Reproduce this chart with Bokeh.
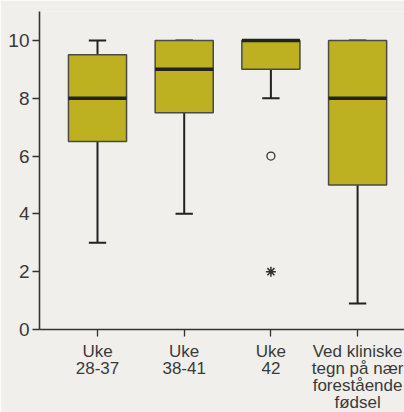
from bokeh.plotting import figure
from bokeh.models import FixedTicker, Range1d
from bokeh.embed import file_html
from bokeh.resources import INLINE

# ---- data ----
categories = ["Uke\n28-37", "Uke\n38-41", "Uke\n42",
              "Ved kliniske\ntegn på nær\nforestående\nfødsel"]
lower_whisker = [3, 4, 8, 0.9]
q1 = [6.5, 7.5, 9, 5]
median = [8, 9, 10, 8]
q3 = [9.5, 10, 10, 10]
upper_whisker = [10, 10, 10, 10]
outlier_circle_cat = [3]
outlier_circle_val = [6]
outlier_star_cat = [3]
outlier_star_val = [2]
y_ticks = [0, 2, 4, 6, 8, 10]

BG = "#f0efeb"
FILL = "#bdb121"
DARK = "#222222"
FONT = "Liberation Sans"

xs = list(range(1, len(categories) + 1))
box_w = 0.67
cap_w = 0.1

p = figure(output_backend="svg", toolbar_location=None,
           frame_width=365, frame_height=318,
           x_range=Range1d(0.331, 4.541), y_range=Range1d(0, 11),
           min_border_left=39, min_border_top=11, min_border_right=0,
           min_border_bottom=79,
           background_fill_color=BG, border_fill_color=BG,
           outline_line_color=None)
p.grid.visible = False

# whiskers
p.segment(x0=xs, x1=xs, y0=lower_whisker, y1=q1, line_color=DARK, line_width=2)
p.segment(x0=xs, x1=xs, y0=q3, y1=upper_whisker, line_color=DARK, line_width=2)
p.segment(x0=[x - cap_w for x in xs], x1=[x + cap_w for x in xs],
          y0=lower_whisker, y1=lower_whisker, line_color=DARK, line_width=2)
p.segment(x0=[x - cap_w for x in xs], x1=[x + cap_w for x in xs],
          y0=upper_whisker, y1=upper_whisker, line_color=DARK, line_width=2)

# boxes
p.vbar(x=xs, width=box_w, bottom=q1, top=q3, fill_color=FILL,
       line_color="#4a4a46", line_width=1.5)
# medians
p.segment(x0=[x - box_w / 2 for x in xs], x1=[x + box_w / 2 for x in xs],
          y0=median, y1=median, line_color=DARK, line_width=3.5)

# outliers
p.scatter(outlier_circle_cat, outlier_circle_val, marker="circle", size=8,
          fill_color=None, line_color="#333333", line_width=1.3)
p.scatter(outlier_star_cat, outlier_star_val, marker="asterisk", size=10,
          line_color="#333333", line_width=1.5)

# axes
for ax in (p.xaxis[0], p.yaxis[0]):
    ax.axis_line_color = "#333333"
    ax.axis_line_width = 1.6
    ax.major_tick_line_color = "#333333"
    ax.major_tick_line_width = 1.3
    ax.major_tick_out = 7
    ax.major_tick_in = 0
    ax.minor_tick_line_color = None
    ax.major_label_text_color = "#3a3a3a"
    ax.major_label_text_font = FONT

p.yaxis.ticker = FixedTicker(ticks=y_ticks)
p.yaxis.major_label_text_font_size = "19px"
p.yaxis.major_label_standoff = 3

p.xaxis.ticker = FixedTicker(ticks=xs)
p.xaxis.major_label_overrides = {x: c for x, c in zip(xs, categories)}
p.xaxis.major_label_text_font_size = "17px"
p.xaxis.major_label_text_line_height = 0.9
p.xaxis.major_label_standoff = 5

html = file_html(p, INLINE)
html = html.replace("<body>", '<body style="background-color:#ffffff; padding-top:2px;">', 1)
open("out.html", "w").write(html)
